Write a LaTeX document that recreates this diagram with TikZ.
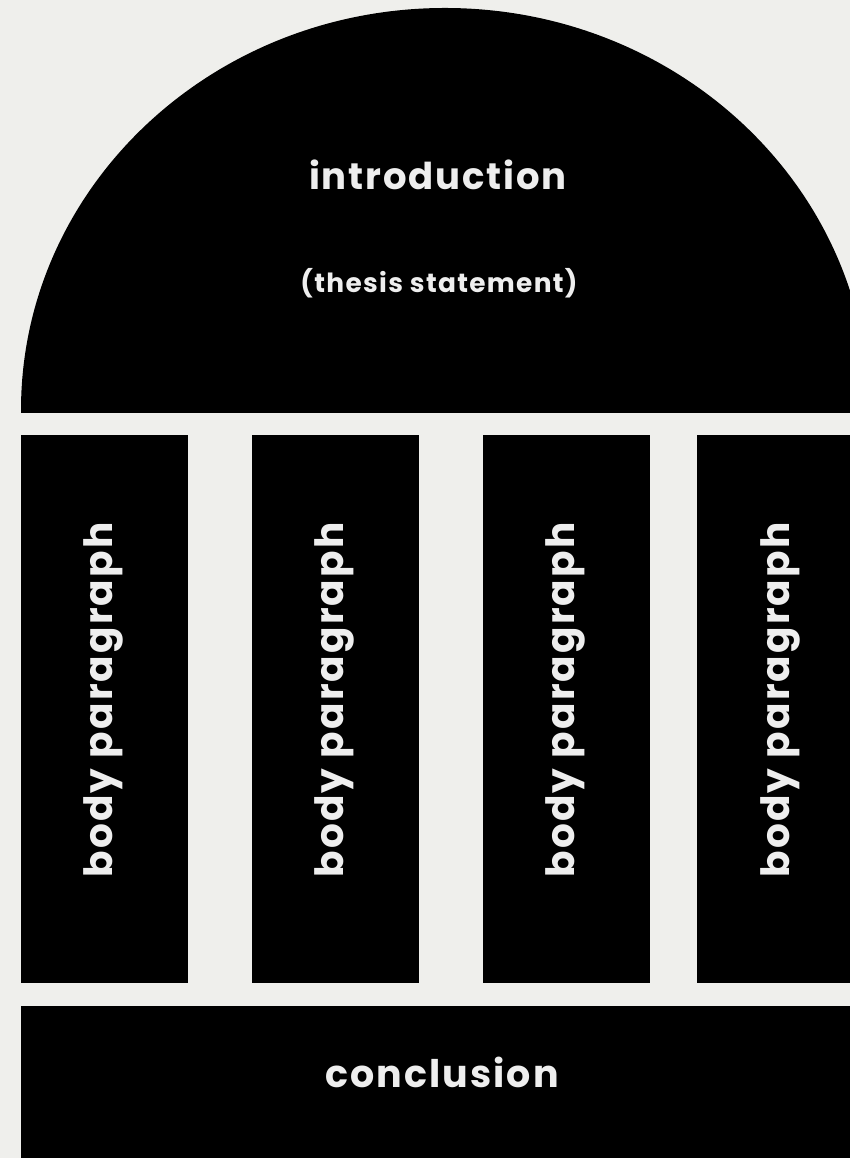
\documentclass[tikz,border=0pt]{standalone}
\usepackage{fontspec}
\setmainfont{Poppins}
\definecolor{bgc}{HTML}{EFEFEC}
\definecolor{txt}{HTML}{EEEEEE}
\tikzset{
  blk/.style={fill=black, draw=none, inner sep=0pt, outer sep=0pt},
  colbox/.style={blk, minimum width=167pt, minimum height=548pt},
  coltxt/.style={text=txt, font=\bfseries\fontsize{39}{44}\selectfont\addfontfeatures{LetterSpace=5.5}, rotate=90, anchor=base, inner sep=0pt},
  bigtxt/.style={text=txt, font=\bfseries\fontsize{37}{42}\selectfont\addfontfeatures{LetterSpace=5}, anchor=base, inner sep=0pt},
  smalltxt/.style={text=txt, font=\bfseries\fontsize{26.4}{30}\selectfont\addfontfeatures{LetterSpace=5}, anchor=base, inner sep=0pt}
}
\begin{document}
\begin{tikzpicture}[x=1pt,y=1pt]
\clip (0,0) rectangle (850,1158);
\fill[bgc] (0,0) rectangle (850,1158);
% dome
\fill[black] (21,745) -- (21,748) arc[start angle=180,end angle=0,x radius=424,y radius=402] -- (869,745) -- cycle;
\node[bigtxt] (intro) at (438,968) {introduction};
\node[smalltxt] (thesis) at (439,865) {(thesis statement)};
% columns
\node[colbox] (c1) at (104,449) {};
\node[colbox] (c2) at (335.5,449) {};
\node[colbox] (c3) at (566.5,449) {};
\node[colbox] (c4) at (780.5,449) {};
\node[coltxt] (t1) at (112,458) {body paragraph};
\node[coltxt] (t2) at (343,458) {body paragraph};
\node[coltxt] (t3) at (574,458) {body paragraph};
\node[coltxt] (t4) at (789,458) {body paragraph};
% conclusion
\node[blk, minimum width=870pt, minimum height=180pt, anchor=north west] (concl) at (21,152) {};
\node[bigtxt, font=\bfseries\fontsize{38}{42}\selectfont\addfontfeatures{LetterSpace=5.5}] (ctext) at (442,70) {conclusion};
\end{tikzpicture}
\end{document}
